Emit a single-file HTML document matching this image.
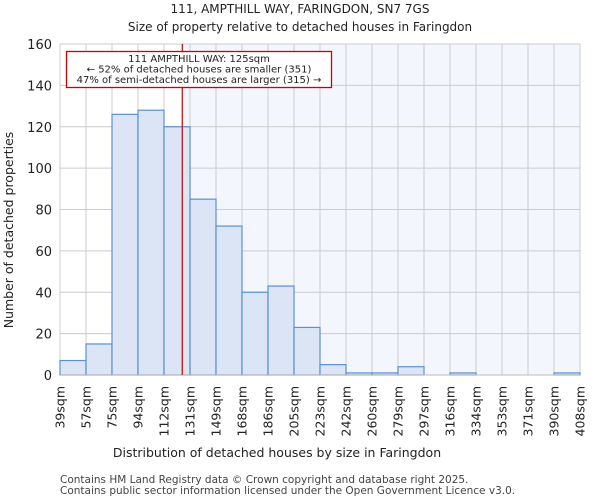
<!DOCTYPE html>
<html><head><meta charset="utf-8"><style>
body{margin:0;background:#fff;font-family:"DejaVu Sans","Liberation Sans",sans-serif;}
</style></head><body>
<svg id="chart" width="600" height="500" xmlns="http://www.w3.org/2000/svg" font-family="DejaVu Sans, Liberation Sans, sans-serif">
<text x="300" y="13" text-anchor="middle" font-size="12" fill="#222">111, AMPTHILL WAY, FARINGDON, SN7 7GS</text>
<text x="300" y="31" text-anchor="middle" font-size="12" fill="#222">Size of property relative to detached houses in Faringdon</text>
<g id="plot"></g>
<text x="277" y="457" text-anchor="middle" font-size="12.5" fill="#222">Distribution of detached houses by size in Faringdon</text>
<text transform="translate(13,230) rotate(-90)" text-anchor="middle" font-size="12.5" fill="#222">Number of detached properties</text>
<text x="60" y="483" font-size="10.5" fill="#444">Contains HM Land Registry data © Crown copyright and database right 2025.</text>
<text x="60" y="494" font-size="10.5" fill="#444">Contains public sector information licensed under the Open Government Licence v3.0.</text>
</svg>
<script>
const tickLabels=["39sqm","57sqm","75sqm","94sqm","112sqm","131sqm","149sqm","168sqm","186sqm","205sqm","223sqm","242sqm","260sqm","279sqm","297sqm","316sqm","334sqm","353sqm","371sqm","390sqm","408sqm"];
const binEdges=[39,57.2,75.4,93.6,111.8,130.6,149,167.5,186,204.5,223,241.5,260,278.5,297,315.5,334,352.5,371,389.5,408];
const counts=[7,15,126,128,120,85,72,40,43,23,5,1,1,4,0,1,0,0,0,1];
const yTicks=[0,20,40,60,80,100,120,140,160];
const propertySize=125;
const NS="http://www.w3.org/2000/svg";
const X0=60,X1=580,Y0=375,Y1=44;
const xs=v=>{for(let i=0;i<binEdges.length-1;i++){if(v<=binEdges[i+1]||i===binEdges.length-2){return X0+(i+(v-binEdges[i])/(binEdges[i+1]-binEdges[i]))*(X1-X0)/(binEdges.length-1);}}};
const ys=v=>Y0-v/160*(Y0-Y1);
const g=document.getElementById('plot');
function mk(t,a){const e=document.createElementNS(NS,t);for(const k in a)e.setAttribute(k,a[k]);g.appendChild(e);return e;}
const px=xs(propertySize);
let e=mk('rect',{x:px,y:Y1,width:X1-px,height:Y0-Y1,fill:'#f3f6fd'});


yTicks.forEach(v=>{
 let l=mk('line',{x1:X0,x2:X1,y1:ys(v),y2:ys(v),stroke:'#cccccc','stroke-width':1});
 
 
 let t=mk('text',{x:X0-8,y:ys(v)+5,'text-anchor':'end','font-size':13,fill:'#222'});
 t.textContent=v;
 
 
});
binEdges.forEach((v,i)=>{
 let l=mk('line',{x1:xs(v),x2:xs(v),y1:Y1,y2:Y0,stroke:'#cccccc','stroke-width':1});
 
 
 let t=mk('text',{transform:`translate(${xs(v)+4.5},386) rotate(-90)`,'text-anchor':'end','font-size':12.5,fill:'#222'});
 t.textContent=tickLabels[i];
 
 
});
counts.forEach((c,i)=>{
 if(c<=0)return;
 let r=mk('rect',{x:xs(binEdges[i]),y:ys(c),width:xs(binEdges[i+1])-xs(binEdges[i]),height:Y0-ys(c),fill:'#dbe5f5',stroke:'#5b8fd6','stroke-width':1.2});
 
 
});
e=mk('line',{x1:X0,x2:X1,y1:Y0,y2:Y0,stroke:'#bbb','stroke-width':1});


e=mk('line',{x1:px,x2:px,y1:Y1,y2:Y0,stroke:'#cc0000','stroke-width':1.2});


e=mk('rect',{x:66.5,y:51.5,width:265,height:36,fill:'#fff',stroke:'#d00000','stroke-width':1.3});


["111 AMPTHILL WAY: 125sqm","← 52% of detached houses are smaller (351)","47% of semi-detached houses are larger (315) →"].forEach((s,i)=>{
 let t=mk('text',{x:199,y:62+i*10.5,'text-anchor':'middle','font-size':10,fill:'#222'});
 t.textContent=s;
 
 
});
</script>
</body></html>
